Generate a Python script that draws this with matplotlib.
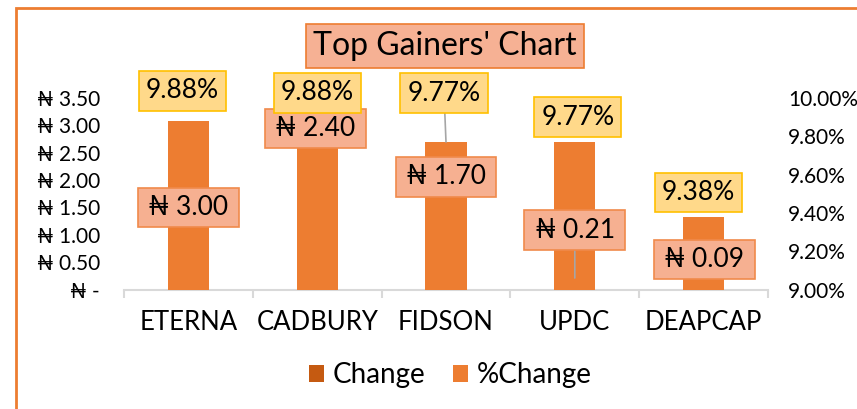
import matplotlib
matplotlib.use('Agg')
import matplotlib.pyplot as plt
from matplotlib.patches import Patch, Rectangle
import numpy as np

# ---------------- data ----------------
companies = ['ETERNA', 'CADBURY', 'FIDSON', 'UPDC', 'DEAPCAP']
change = [3.00, 2.40, 1.70, 0.21, 0.09]
pct_change = [9.88, 9.88, 9.77, 9.77, 9.38]
left_ticks = [0.0, 0.5, 1.0, 1.5, 2.0, 2.5, 3.0, 3.5]
right_ticks = [9.0, 9.2, 9.4, 9.6, 9.8, 10.0]
title = "Top Gainers' Chart"

# label placement offsets (pixels) relative to each bar top
pct_offsets = [(-6, 30), (0, 28), (-2, 49), (3, 25), (-5, 24)]
pct_leader = [False, False, True, False, False]
chg_offsets = [(0, -82), (-2, 30), (0, 19.5), (0, 48), (1, 25)]
chg_leader = [False, False, False, True, False]

FONT = ['Lato', 'DejaVu Sans']
plt.rcParams['font.family'] = FONT

W, H = 857, 409
PX = 72 / 100  # points per pixel
fig = plt.figure(figsize=(W / 100, H / 100), dpi=100)


def px_rect(l, t, r, b):
    return [l / W, 1 - b / H, (r - l) / W, (b - t) / H]


ax = fig.add_axes(px_rect(124, 98, 768, 289.5))
ax2 = ax.twinx()
x = np.arange(len(companies))

C_CHG = '#C55A11'
C_PCT = '#ED7D31'
ax.bar(x, change, width=0.32, color=C_CHG, zorder=2)
ax2.bar(x, pct_change, width=0.32, color=C_PCT, zorder=2)

ax.set_xlim(-0.5, len(companies) - 0.5)
ax.set_ylim(0, 3.5)
ax2.set_ylim(9.0, 10.0)

ax.set_yticks(left_ticks, ['₦ -' if v == 0 else f'₦ {v:.2f}' for v in left_ticks])
ax2.set_yticks(right_ticks, [f'{v:.2f}%' for v in right_ticks])
ax.tick_params(axis='y', length=0, pad=24 * PX, labelsize=15)
ax2.tick_params(axis='y', length=0, pad=20 * PX, labelsize=15)

ax.set_xticks(x, companies)
ax.set_xticks(np.arange(-0.5, len(companies), 1), minor=True)
ax.tick_params(axis='x', which='major', length=0, pad=20 * PX, labelsize=18.5)
ax.tick_params(axis='x', which='minor', length=6, width=1.5, color='#D9D9D9')

for s in ['top', 'left', 'right']:
    ax.spines[s].set_visible(False)
for s in ax2.spines.values():
    s.set_visible(False)
ax.spines['bottom'].set_color('#D9D9D9')
ax.spines['bottom'].set_linewidth(1.5)


def label(text, xy, xycoords, off, fc, ec, leader, z):
    ax2.annotate(text, xy=xy, xycoords=xycoords, xytext=off,
                 textcoords='offset pixels', ha='center', va='center',
                 fontsize=19, zorder=z,
                 bbox=dict(boxstyle='square,pad=0.27', fc=fc, ec=ec, lw=1.2),
                 arrowprops=(dict(arrowstyle='-', color='#A6A6A6', lw=1.2,
                                  shrinkA=0, shrinkB=0) if leader else None),
                 annotation_clip=False)


for i, v in enumerate(change):
    label(f'\u2009₦ {v:.2f}\u2009', (i, v), ax.transData, chg_offsets[i],
          '#F6B091', '#F08A4B', chg_leader[i], 5)
for i, v in enumerate(pct_change):
    label(f'{v:.2f}%', (i, v), ax2.transData, pct_offsets[i],
          '#FFD98A', '#FFC000', pct_leader[i], 6)

fig.text(445 / W, 1 - 46 / H, title, fontsize=23, ha='center', va='center',
         bbox=dict(boxstyle='square,pad=0.22', fc='#F6B194', ec='#ED7D31', lw=1.2))

fig.legend(handles=[Patch(fc=C_CHG), Patch(fc=C_PCT)], labels=['Change', '%Change'],
           loc='center', bbox_to_anchor=(450 / W, 1 - 375 / H), ncol=2,
           frameon=False, fontsize=20, handlelength=0.55, handleheight=0.55,
           handletextpad=0.3, columnspacing=1.0)

fig.patches.append(Rectangle((16 / W, -0.5), 2, (1 - 8 / H) + 0.5,
                             transform=fig.transFigure, fill=False,
                             ec='#ED7D31', lw=2))

fig.savefig('out.png', dpi=100)
